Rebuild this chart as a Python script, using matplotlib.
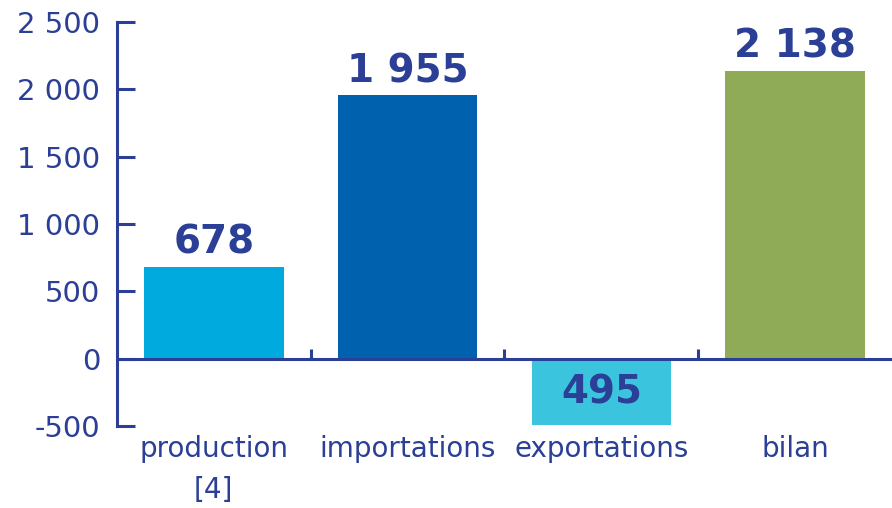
"""
Bar chart: production / importations / exportations / bilan.
"""
import matplotlib
matplotlib.use('Agg')
import matplotlib.pyplot as plt
from matplotlib.ticker import FuncFormatter

categories = ['production\n[4]', 'importations', 'exportations', 'bilan']
values = [678, 1955, -495, 2138]
bar_labels = ['678', '1 955', '495', '2 138']
colors = ['#00AADF', '#0062AE', '#3BC4DE', '#8FAB57']
y_ticks = [-500, 0, 500, 1000, 1500, 2000, 2500]

navy = '#2A3F95'


def fmt_thousands(v, pos):
    return '{:,}'.format(int(v)).replace(',', ' ')


def main():
    plt.rc('font', family='DejaVu Sans')

    fig = plt.figure(figsize=(8.92, 5.08), dpi=100)
    ax = fig.add_axes([0.131, 0.1614, 0.869, 0.7953])

    pos = [i + 0.5 for i in range(len(values))]
    ax.bar(pos, values, width=0.72, color=colors, zorder=1)

    # value labels
    for x, v, lab in zip(pos, values, bar_labels):
        if v >= 0:
            ax.text(x, v + 40, lab, ha='center', va='bottom', color=navy,
                    fontsize=28, fontweight='heavy')
        else:
            ax.text(x, v / 2, lab, ha='center', va='center', color=navy,
                    fontsize=28, fontweight='heavy')

    ax.set_xlim(0, len(values))
    ax.set_ylim(-500, 2500)
    ax.set_yticks(y_ticks)
    ax.yaxis.set_major_formatter(FuncFormatter(fmt_thousands))

    # x axis drawn at zero
    ax.spines['bottom'].set_position(('data', 0))
    for s in ['top', 'right']:
        ax.spines[s].set_visible(False)
    for s in ['left', 'bottom']:
        ax.spines[s].set_color(navy)
        ax.spines[s].set_linewidth(2.2)

    ax.tick_params(axis='y', direction='in', length=13, width=2.2, color=navy,
                   labelcolor=navy, labelsize=21, pad=12)
    ax.set_xticks([1, 2, 3])
    ax.set_xticklabels([])
    ax.tick_params(axis='x', which='major', direction='in', length=7, width=2.2, color=navy)

    # category labels below the plot
    for x, c in zip(pos, categories):
        ax.text(x, -570, c, ha='center', va='top', color=navy, fontsize=20,
                linespacing=1.55)

    fig.savefig('out.png', dpi=100)


if __name__ == '__main__':
    main()
